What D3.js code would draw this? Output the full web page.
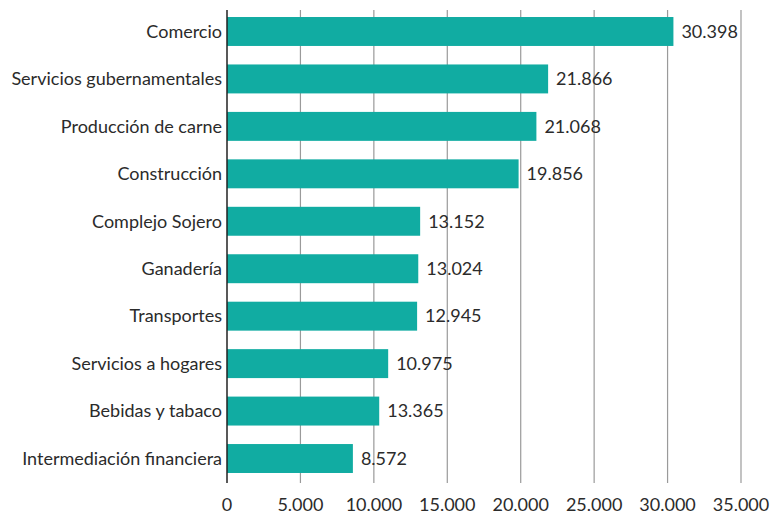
<!DOCTYPE html>
<html><head><meta charset="utf-8">
<script src="https://cdn.jsdelivr.net/npm/d3@7"></script>
<style>body{margin:0;background:#fff}svg{display:block}text{font-family:Lato,"Open Sans",sans-serif;fill:#2b2b2b}</style>
</head><body><svg id="c" width="780" height="517"></svg>
<script>
const categories = ["Comercio","Servicios gubernamentales","Producción de carne","Construcción","Complejo Sojero","Ganadería","Transportes","Servicios a hogares","Bebidas y tabaco","Intermediación financiera"];
const values = [30398, 21866, 21068, 19856, 13152, 13024, 12945, 10975, 10365, 8572];
const valueLabels = ["30.398","21.866","21.068","19.856","13.152","13.024","12.945","10.975","13.365","8.572"];
const ticks = [0,5000,10000,15000,20000,25000,30000,35000];
const tickLabels = ["0","5.000","10.000","15.000","20.000","25.000","30.000","35.000"];

const svg = d3.select("#c");
const x = d3.scaleLinear().domain([0,35000]).range([227,741]);
const y = d3.scaleBand().domain(categories).range([8,482]).paddingInner(0.39).paddingOuter(0.19);

svg.append("g").selectAll("line").data(ticks.slice(1)).join("line")
  .attr("x1",d=>x(d)).attr("x2",d=>x(d)).attr("y1",10).attr("y2",483)
  .attr("stroke","#9a9a9a").attr("stroke-width",1.2);

svg.append("g").selectAll("rect").data(values).join("rect")
  .attr("x",x(0)).attr("y",(d,i)=>y(categories[i]))
  .attr("width",d=>x(d)-x(0)).attr("height",y.bandwidth())
  .attr("fill","#11ACA2");

svg.append("line").attr("x1",x(0)).attr("x2",x(0)).attr("y1",10).attr("y2",483)
  .attr("stroke","#222").attr("stroke-width",1.5);

svg.append("g").selectAll("text").data(categories).join("text")
  .attr("x",x(0)-5).attr("y",d=>y(d)+y.bandwidth()/2).attr("dy","0.35em")
  .attr("text-anchor","end").attr("font-size",18).text(d=>d);

svg.append("g").selectAll("text").data(values).join("text")
  .attr("x",d=>x(d)+8).attr("y",(d,i)=>y(categories[i])+y.bandwidth()/2).attr("dy","0.35em")
  .attr("font-size",18).text((d,i)=>valueLabels[i]);

svg.append("g").selectAll("text").data(ticks).join("text")
  .attr("x",d=>x(d)).attr("y",505).attr("dy","0.35em")
  .attr("text-anchor","middle").attr("font-size",18).text((d,i)=>tickLabels[i]);
</script></body></html>
